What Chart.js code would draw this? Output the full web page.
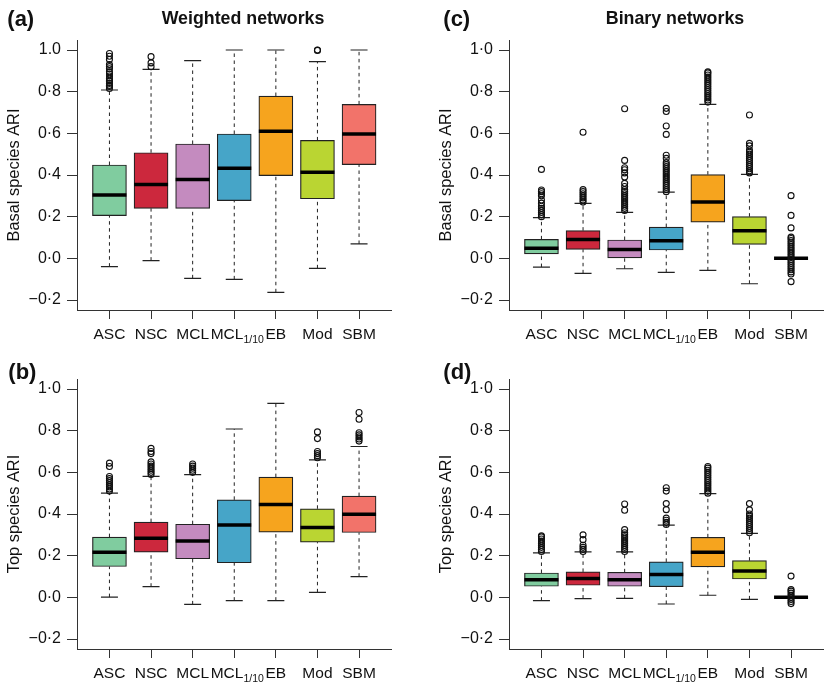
<!DOCTYPE html>
<html>
<head>
<meta charset="utf-8">
<script src="https://cdn.jsdelivr.net/npm/chart.js@4.4.1/dist/chart.umd.min.js"></script>
<style>
  html, body { margin: 0; padding: 0; background: #fff; overflow: hidden; width: 825px; height: 685px; }
  canvas { position: absolute; }
</style>
</head>
<body>
<canvas id="panelA" width="412" height="346" style="left:0px;top:0px"></canvas>
<canvas id="panelC" width="412" height="346" style="left:432px;top:0px"></canvas>
<canvas id="panelB" width="412" height="346" style="left:0px;top:339px"></canvas>
<canvas id="panelD" width="412" height="346" style="left:432px;top:339px"></canvas>
<script>
// Methods (x categories) and box colours
const methodLabels = ['ASC', 'NSC', 'MCL', 'MCL', 'EB', 'Mod', 'SBM'];
const methodSubs = ['', '', '', '1/10', '', '', ''];
const boxColors = ['#80cc9f', '#cc283d', '#c48bbf', '#46a5c8', '#f6a41e', '#bad532', '#f2736a'];

// Y ticks
const yTickValues = [-0.2, 0, 0.2, 0.4, 0.6, 0.8, 1.0];
const yTickLabelsA = ['\u22120\u00b72', '0\u00b70', '0\u00b72', '0\u00b74', '0\u00b76', '0\u00b78', '1.0'];
const yTickLabels = ['\u22120\u00b72', '0\u00b70', '0\u00b72', '0\u00b74', '0\u00b76', '0\u00b78', '1\u00b70'];

// (a) Weighted networks, basal species ARI
const aLow  = [-0.040, -0.011, -0.096, -0.101, -0.163, -0.048, 0.069];
const aQ1   = [0.205, 0.240, 0.240, 0.277, 0.397, 0.286, 0.450];
const aMed  = [0.304, 0.355, 0.379, 0.432, 0.610, 0.413, 0.597];
const aQ3   = [0.448, 0.507, 0.549, 0.597, 0.779, 0.566, 0.739];
const aHigh = [0.808, 0.907, 0.949, 1.000, 1.000, 0.944, 1.000];
const aOut  = [
  [0.815, 0.825, 0.83, 0.84, 0.85, 0.855, 0.865, 0.875, 0.885, 0.895, 0.91, 0.92, 0.93, 0.955, 0.97, 0.983],
  [0.92, 0.938, 0.968],
  [], [], [],
  [0.998, 1.0],
  []
];

// (c) Binary networks, basal species ARI
const cLow  = [-0.042, -0.072, -0.050, -0.067, -0.058, -0.122, 0];
const cQ1   = [0.021, 0.043, 0.000, 0.040, 0.174, 0.067, 0];
const cMed  = [0.048, 0.091, 0.043, 0.085, 0.270, 0.133, 0];
const cQ3   = [0.091, 0.133, 0.088, 0.150, 0.402, 0.200, 0];
const cHigh = [0.195, 0.264, 0.221, 0.318, 0.739, 0.403, 0];
const cOut  = [
  [0.20, 0.21, 0.22, 0.23, 0.24, 0.25, 0.265, 0.28, 0.30, 0.31, 0.32, 0.328, 0.427],
  [0.27, 0.28, 0.29, 0.30, 0.31, 0.32, 0.33, 0.605],
  [0.23, 0.24, 0.25, 0.26, 0.27, 0.28, 0.29, 0.30, 0.31, 0.32, 0.33, 0.345, 0.36, 0.39, 0.41, 0.425, 0.435, 0.47, 0.718],
  [0.32, 0.33, 0.34, 0.35, 0.36, 0.37, 0.38, 0.39, 0.40, 0.41, 0.42, 0.43, 0.44, 0.45, 0.46, 0.48, 0.495, 0.595, 0.635, 0.705, 0.72],
  [0.75, 0.76, 0.77, 0.78, 0.79, 0.80, 0.81, 0.82, 0.83, 0.84, 0.85, 0.86, 0.87, 0.88, 0.89, 0.895],
  [0.41, 0.42, 0.43, 0.44, 0.45, 0.46, 0.47, 0.48, 0.49, 0.50, 0.51, 0.52, 0.54, 0.552, 0.688],
  [-0.112, -0.075, -0.065, -0.055, -0.045, -0.035, -0.025, -0.015, -0.005, 0.005, 0.015, 0.025, 0.035, 0.045, 0.055, 0.065, 0.075, 0.085, 0.095, 0.102, 0.146, 0.206, 0.301]
];

// (b) Weighted networks, top species ARI
const bLow  = [0.001, 0.051, -0.034, -0.016, -0.016, 0.024, 0.099];
const bQ1   = [0.148, 0.217, 0.185, 0.166, 0.313, 0.265, 0.311];
const bMed  = [0.217, 0.284, 0.271, 0.347, 0.446, 0.335, 0.399];
const bQ3   = [0.289, 0.361, 0.351, 0.468, 0.577, 0.425, 0.486];
const bHigh = [0.500, 0.581, 0.589, 0.808, 0.931, 0.660, 0.724];
const bOut  = [
  [0.51, 0.52, 0.53, 0.54, 0.55, 0.56, 0.57, 0.58, 0.628, 0.644],
  [0.59, 0.60, 0.61, 0.62, 0.63, 0.64, 0.65, 0.69, 0.70, 0.715],
  [0.60, 0.61, 0.62, 0.63, 0.64],
  [], [],
  [0.67, 0.68, 0.69, 0.70, 0.762, 0.794],
  [0.75, 0.76, 0.77, 0.78, 0.79, 0.855, 0.887]
];

// (d) Binary networks, top species ARI
const dLow  = [-0.016, -0.006, -0.005, -0.032, 0.010, -0.010, 0];
const dQ1   = [0.053, 0.058, 0.053, 0.051, 0.146, 0.088, 0];
const dMed  = [0.085, 0.091, 0.085, 0.110, 0.216, 0.126, 0];
const dQ3   = [0.117, 0.122, 0.120, 0.170, 0.288, 0.176, 0];
const dHigh = [0.213, 0.218, 0.218, 0.347, 0.498, 0.307, 0];
const dOut  = [
  [0.22, 0.23, 0.24, 0.25, 0.26, 0.27, 0.28, 0.29, 0.295],
  [0.22, 0.23, 0.24, 0.25, 0.277, 0.30],
  [0.22, 0.23, 0.24, 0.25, 0.26, 0.27, 0.28, 0.29, 0.30, 0.31, 0.325, 0.418, 0.448],
  [0.35, 0.36, 0.37, 0.38, 0.421, 0.45, 0.51, 0.526],
  [0.50, 0.51, 0.52, 0.53, 0.54, 0.55, 0.56, 0.57, 0.58, 0.59, 0.60, 0.61, 0.62, 0.628],
  [0.31, 0.32, 0.33, 0.34, 0.35, 0.36, 0.37, 0.38, 0.39, 0.40, 0.42, 0.45],
  [-0.03, -0.02, -0.01, 0, 0.01, 0.02, 0.03, 0.037, 0.102]
];

Chart.defaults.font.family = "'Liberation Sans', Arial, sans-serif";
Chart.defaults.color = '#111';

const FONT = "'Liberation Sans', Arial, sans-serif";
const INK = '#222';

// category labels (with subscript) + panel letters and titles
const panelText = {
  id: 'panelText',
  afterDraw(chart, args, opts) {
    const ctx = chart.ctx;
    const xs = chart.scales.x;
    ctx.save();
    ctx.fillStyle = '#111';
    ctx.textBaseline = 'alphabetic';
    methodLabels.forEach((lab, i) => {
      const px = xs.getPixelForValue(i + 1);
      ctx.font = '15.5px ' + FONT;
      const w1 = ctx.measureText(lab).width;
      let w2 = 0;
      if (methodSubs[i]) {
        ctx.font = '10.5px ' + FONT;
        w2 = ctx.measureText(methodSubs[i]).width;
      }
      // subscripted label sits a little right of its tick in the original
      const x0 = px - (w1 + w2) / 2 + (methodSubs[i] ? 3 : 0);
      ctx.textAlign = 'left';
      ctx.font = '15.5px ' + FONT;
      ctx.fillText(lab, x0, 339);
      if (methodSubs[i]) {
        ctx.font = '10.5px ' + FONT;
        ctx.fillText(methodSubs[i], x0 + w1, 343);
      }
    });
    ctx.font = 'bold 22px ' + FONT;
    ctx.textAlign = 'left';
    ctx.fillText(opts.letter, opts.letterX, opts.letterY);
    if (opts.title) {
      ctx.font = 'bold 17.8px ' + FONT;
      ctx.textAlign = 'center';
      ctx.fillText(opts.title, 243, 24);
    }
    ctx.restore();
  }
};

function buildPanel(id, p) {
  const xs = methodLabels.map((_, i) => i + 1);
  const boxes = xs.map((x, i) => ({ x: x, y: [p.q1[i], p.q3[i]] }));
  const whiskers = [];
  xs.forEach((x, i) => {
    whiskers.push({ x: x, y: p.low[i] }, { x: x, y: p.q1[i] }, { x: x, y: null });
    whiskers.push({ x: x, y: p.q3[i] }, { x: x, y: p.high[i] }, { x: x, y: null });
  });
  const caps = [];
  xs.forEach((x, i) => { caps.push({ x: x, y: p.low[i] }, { x: x, y: p.high[i] }); });
  const medians = xs.map((x, i) => ({ x: x, y: p.med[i] }));
  const outliers = [];
  xs.forEach((x, i) => p.out[i].forEach(v => outliers.push({ x: x, y: v })));

  return new Chart(document.getElementById(id), {
    type: 'bar',
    data: {
      datasets: [
        {
          type: 'bar', data: boxes, order: 3,
          backgroundColor: boxColors, borderColor: INK, borderWidth: 1.2,
          borderSkipped: false, barThickness: 34
        },
        {
          type: 'line', data: whiskers, order: 4,
          borderColor: INK, borderWidth: 1, borderDash: [3.5, 3.5],
          pointRadius: 0, spanGaps: false, tension: 0, fill: false
        },
        {
          type: 'scatter', data: caps, order: 2,
          pointStyle: 'line', pointRadius: 8.5, pointBorderWidth: 1.2,
          borderColor: INK, pointBorderColor: INK
        },
        {
          type: 'scatter', data: medians, order: 1,
          pointStyle: 'line', pointRadius: 17, pointBorderWidth: 3.5,
          borderColor: '#000', pointBorderColor: '#000'
        },
        {
          type: 'scatter', data: outliers, order: 0,
          pointStyle: 'circle', pointRadius: 3, pointBorderWidth: 1.1,
          pointBorderColor: '#111', pointBackgroundColor: 'rgba(255,255,255,0)',
          borderColor: '#111', backgroundColor: 'rgba(255,255,255,0)'
        }
      ]
    },
    options: {
      responsive: false,
      animation: false,
      devicePixelRatio: 1,
      layout: { padding: { left: 0, right: 11.3, top: 40, bottom: 0 } },
      plugins: {
        legend: { display: false },
        tooltip: { enabled: false },
        panelText: { letter: p.letter, letterX: p.letterX, letterY: p.letterY, title: p.title }
      },
      scales: {
        x: {
          type: 'linear', min: 0.22, max: 7.78, offset: false,
          afterBuildTicks: s => { s.ticks = xs.map(v => ({ value: v })); },
          afterFit: s => { s.height = 36; },
          ticks: { display: false },
          grid: { offset: false, drawOnChartArea: false, drawTicks: true, tickLength: 9, color: '#333', lineWidth: 1 },
          border: { display: true, color: '#333', width: 1 }
        },
        y: {
          type: 'linear', min: -0.248, max: 1.048,
          afterBuildTicks: s => { s.ticks = yTickValues.map(v => ({ value: v })); },
          afterFit: s => { s.width = 77; },
          ticks: {
            padding: 6, color: '#111', font: { size: 16 },
            callback: (v, i) => p.tickLabels[i]
          },
          grid: { drawOnChartArea: false, drawTicks: true, tickLength: 10, color: '#333', lineWidth: 1 },
          border: { display: true, color: '#333', width: 1 },
          title: { display: true, text: p.yTitle, color: '#111', font: { size: 16.4 }, padding: { top: 5, bottom: 0 } }
        }
      }
    },
    plugins: [panelText]
  });
}

buildPanel('panelA', {
  low: aLow, q1: aQ1, med: aMed, q3: aQ3, high: aHigh, out: aOut,
  yTitle: 'Basal species ARI', tickLabels: yTickLabelsA,
  letter: '(a)', letterX: 7.3, letterY: 26, title: 'Weighted networks'
});
buildPanel('panelC', {
  low: cLow, q1: cQ1, med: cMed, q3: cQ3, high: cHigh, out: cOut,
  yTitle: 'Basal species ARI', tickLabels: yTickLabels,
  letter: '(c)', letterX: 11.3, letterY: 26, title: 'Binary networks'
});
buildPanel('panelB', {
  low: bLow, q1: bQ1, med: bMed, q3: bQ3, high: bHigh, out: bOut,
  yTitle: 'Top species ARI', tickLabels: yTickLabels,
  letter: '(b)', letterX: 8.3, letterY: 39.7, title: ''
});
buildPanel('panelD', {
  low: dLow, q1: dQ1, med: dMed, q3: dQ3, high: dHigh, out: dOut,
  yTitle: 'Top species ARI', tickLabels: yTickLabels,
  letter: '(d)', letterX: 11.3, letterY: 39.7, title: ''
});
</script>
</body>
</html>
